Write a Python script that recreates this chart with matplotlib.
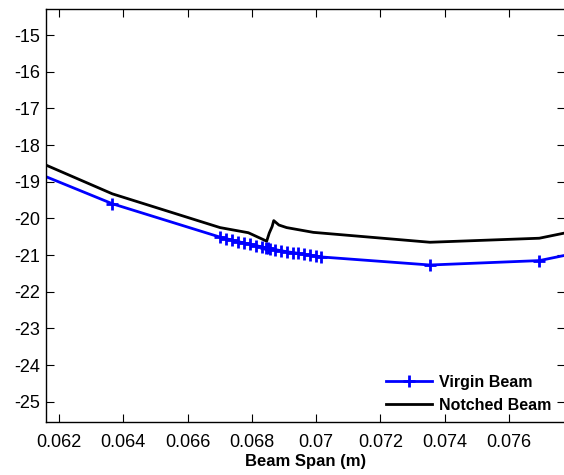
import matplotlib
matplotlib.use("Agg")
import matplotlib.pyplot as plt

plt.rcParams['font.family'] = ['Liberation Sans', 'DejaVu Sans']
plt.rcParams['axes.unicode_minus'] = False

# Virgin beam deflection (mm) vs beam span (m)
virgin_x = [0.0605, 0.06366, 0.06701, 0.06719, 0.06738, 0.06757, 0.06775, 0.06794,
            0.06813, 0.06831, 0.06844, 0.06850, 0.06856, 0.06872, 0.06891, 0.06909,
            0.06928, 0.06943, 0.06962, 0.06981, 0.06999, 0.07015, 0.07354, 0.07694,
            0.0785]
virgin_y = [-18.47, -19.60, -20.51, -20.55, -20.59, -20.63, -20.67, -20.70,
            -20.74, -20.78, -20.80, -20.81, -20.83, -20.85, -20.88, -20.91,
            -20.93, -20.95, -20.98, -21.00, -21.03, -21.05, -21.27, -21.15,
            -20.87]

# Notched beam
notched_x = [0.0605, 0.06366, 0.06701, 0.06789, 0.06846, 0.06854, 0.06863, 0.06868,
             0.06884, 0.06908, 0.06991, 0.07354, 0.07694, 0.0785]
notched_y = [-18.13, -19.33, -20.25, -20.39, -20.62, -20.40, -20.22, -20.06,
             -20.18, -20.25, -20.38, -20.65, -20.54, -20.26]

xticks = [0.062, 0.064, 0.066, 0.068, 0.070, 0.072, 0.074, 0.076]
xtick_labels = ['0.062', '0.064', '0.066', '0.068', '0.07', '0.072', '0.074', '0.076']
yticks = [-25, -24, -23, -22, -21, -20, -19, -18, -17, -16, -15]

fig = plt.figure(figsize=(5.64, 4.75), dpi=100)
ax = fig.add_axes([0.081, 0.1116, 0.9208, 0.8695])

ax.plot(virgin_x, virgin_y, color='#0000ff', lw=2, marker='+', ms=9, mew=2,
        label='Virgin Beam')
ax.plot(notched_x, notched_y, color='black', lw=2, label='Notched Beam')

ax.set_xlim(0.061586, 0.07774)
ax.set_ylim(-25.55, -14.29)
ax.set_xticks(xticks)
ax.set_xticklabels(xtick_labels)
ax.set_yticks(yticks)
ax.tick_params(direction='in', length=6, width=0.8, labelsize=13, top=True, right=True)
ax.tick_params(axis='x', pad=9)
ax.tick_params(axis='y', pad=4)
for s in ax.spines.values():
    s.set_linewidth(1.0)

ax.set_xlabel('Beam Span (m)', fontsize=12, fontweight='bold', labelpad=2)

leg = ax.legend(loc='lower right', frameon=False,
                prop={'weight': 'bold', 'size': 11.5}, handlelength=2.9,
                borderaxespad=0.3, labelspacing=0.5, handletextpad=0.4,
                bbox_to_anchor=(0.995, -0.005))

fig.savefig('out.png', dpi=100)
